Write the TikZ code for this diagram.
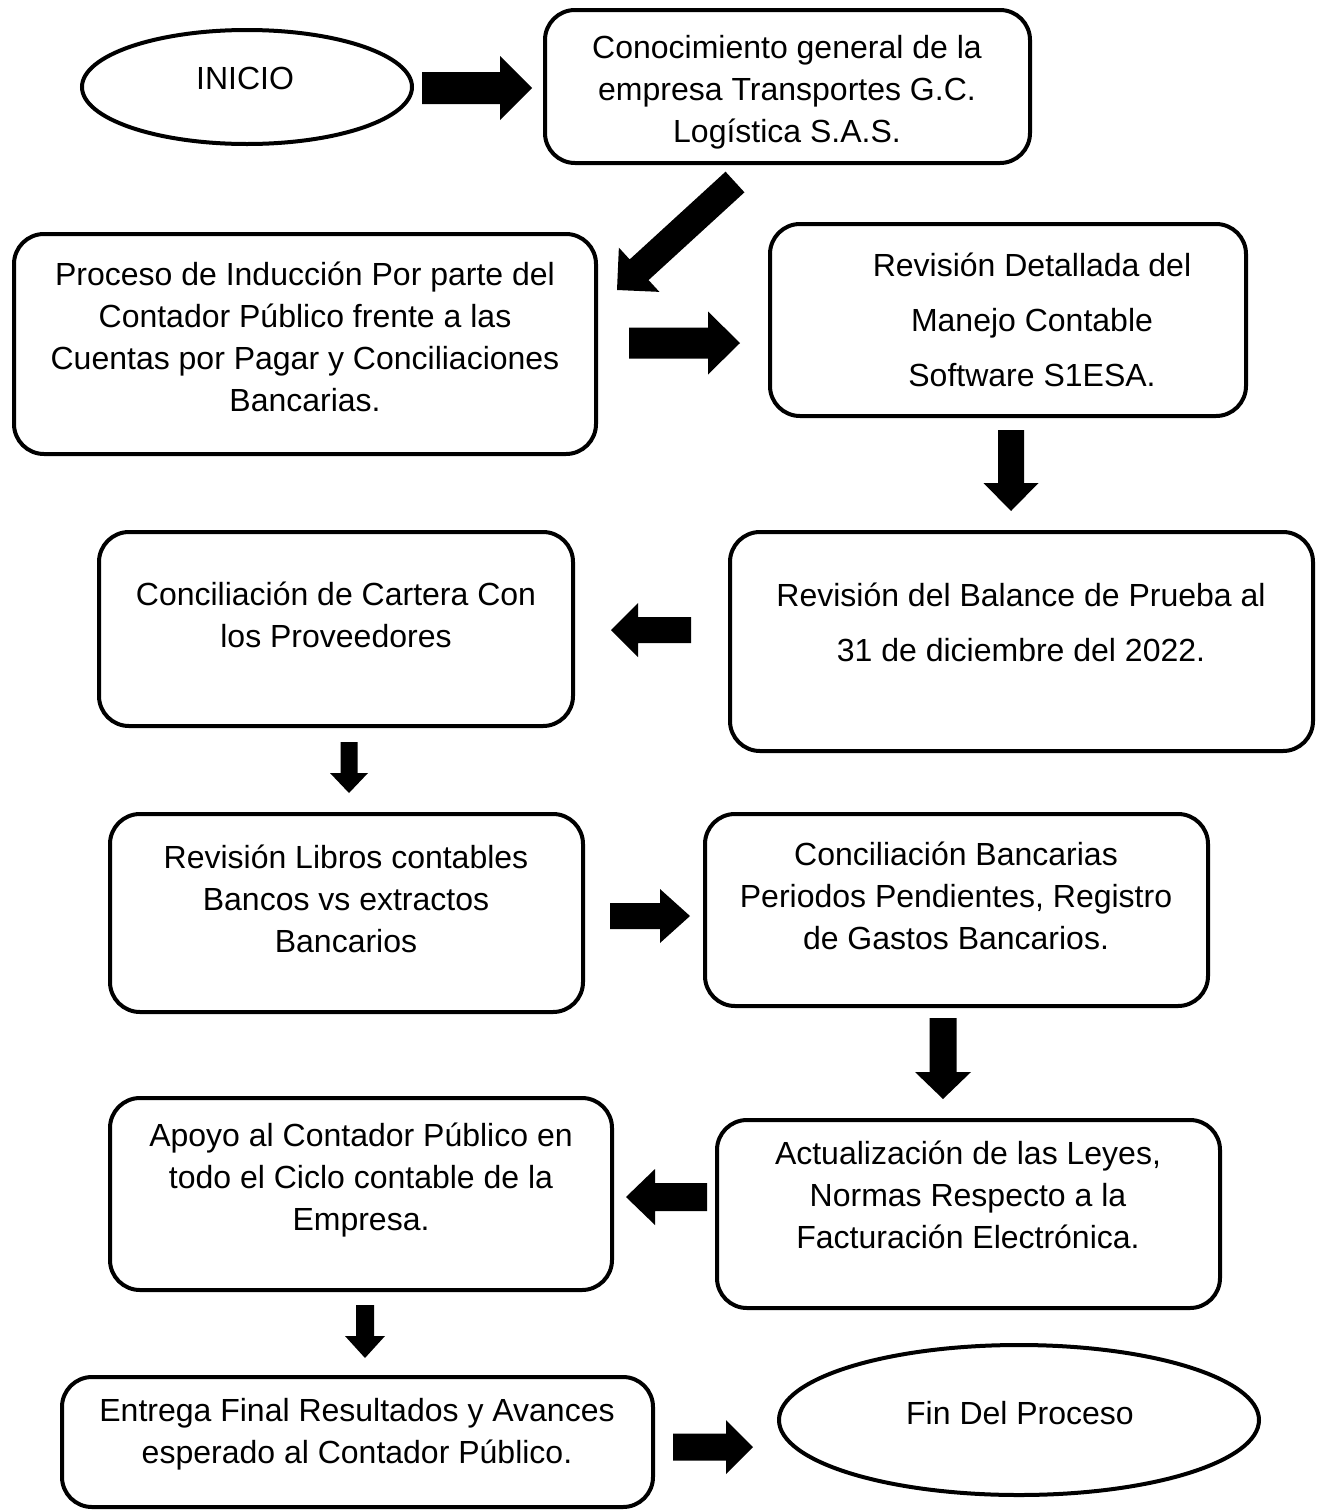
\documentclass[tikz,border=0pt]{standalone}
\usepackage{fontspec}
\setmainfont{Liberation Sans}
\usetikzlibrary{calc,fit,shapes.geometric}
\newcommand\blockarrow[5]{%
  \coordinate (hb) at ($(#2)!#5!(#1)$);
  \fill ($(#1)!#3!90:(#2)$) -- ($(hb)!#3!90:(#2)$) -- ($(hb)!#4!90:(#2)$) -- (#2)
    -- ($(hb)!#4!-90:(#2)$) -- ($(hb)!#3!-90:(#2)$) -- ($(#1)!#3!-90:(#2)$) -- cycle;}
\begin{document}
\begin{tikzpicture}[x=0.5pt,y=-0.5pt,
  box/.style={draw, line width=2pt, rounded corners=15pt, inner sep=0pt},
  oval/.style={draw, ellipse, line width=2pt, inner sep=0pt},
  txt/.style={align=center, font=\fontsize{16pt}{21pt}\selectfont, inner sep=0pt},
  wide/.style={font=\fontsize{16pt}{27.5pt}\selectfont}]
\useasboundingbox (0,0) rectangle (1325,1510);
% ovals
\node[oval, minimum width=165pt, minimum height=57pt] (e1) at (247,87) {};
\node[txt] (te1) at (245,78) {INICIO};
\node[oval, minimum width=240pt, minimum height=75pt] (e2) at (1019,1420) {};
\node[txt] (te2) at (1020,1413) {Fin Del Proceso};
% boxes
\node[box, fit={(545,10) (1030,163)}] (b1) {};
\node[txt] (t1) at (787,92) {Conocimiento general de la\\empresa Transportes G.C.\\Logística S.A.S.};
\node[box, fit={(14,234) (596,454)}] (b2) {};
\node[txt] (t2) at (305,337) {Proceso de Inducción Por parte del\\Contador Público frente a las\\Cuentas por Pagar y Conciliaciones\\Bancarias.};
\node[box, fit={(770,224) (1246,416)}] (b3) {};
\node[txt, wide] (t3) at (1032,320) {Revisión Detallada del\\Manejo Contable\\Software S1ESA.};
\node[box, fit={(730,532) (1313,751)}] (b4) {};
\node[txt, wide] (t4) at (1021,622) {Revisión del Balance de Prueba al\\31 de diciembre del 2022.};
\node[box, fit={(99,532) (573,726)}] (b5) {};
\node[txt] (t5) at (336,615) {Conciliación de Cartera Con\\los Proveedores};
\node[box, fit={(110,814) (583,1012)}] (b6) {};
\node[txt] (t6) at (346,899) {Revisión Libros contables\\Bancos vs extractos\\Bancarios};
\node[box, fit={(705,814) (1208,1006)}] (b7) {};
\node[txt] (t7) at (956,896) {Conciliación Bancarias\\Periodos Pendientes, Registro\\de Gastos Bancarios.};
\node[box, fit={(717,1120) (1220,1308)}] (b8) {};
\node[txt] (t8) at (968,1195) {Actualización de las Leyes,\\Normas Respecto a la\\Facturación Electrónica.};
\node[box, fit={(110,1098) (612,1290)}] (b9) {};
\node[txt] (t9) at (361,1180) {Apoyo al Contador Público en\\todo el Ciclo contable de la\\Empresa.};
\node[box, fit={(62,1377) (653,1507)}] (b10) {};
\node[txt] (t10) at (357,1434) {Entrega Final Resultados y Avances\\esperado al Contador Público.};
% arrow end points
\coordinate (a1s) at (422,88);   \coordinate (a1e) at (532,88);
\coordinate (a2s) at (735,182);  \coordinate (a2e) at (617,290);
\coordinate (a3s) at (629,343);  \coordinate (a3e) at (740,343);
\coordinate (a4s) at (1011,430); \coordinate (a4e) at (1011,511);
\coordinate (a5s) at (691,630);  \coordinate (a5e) at (611,630);
\coordinate (a6s) at (349,742);  \coordinate (a6e) at (349,793);
\coordinate (a7s) at (610,916);  \coordinate (a7e) at (690,916);
\coordinate (a8s) at (943,1018); \coordinate (a8e) at (943,1099);
\coordinate (a9s) at (707,1197); \coordinate (a9e) at (626,1197);
\coordinate (a10s) at (365,1305); \coordinate (a10e) at (365,1358);
\coordinate (a11s) at (673,1447); \coordinate (a11e) at (753,1447);
\blockarrow{a1s}{a1e}{8pt}{16pt}{16pt}
\blockarrow{a2s}{a2e}{7pt}{15pt}{15pt}
\blockarrow{a3s}{a3e}{7.75pt}{15.75pt}{16pt}
\blockarrow{a4s}{a4e}{6.5pt}{13.75pt}{14pt}
\blockarrow{a5s}{a5e}{6.5pt}{13.5pt}{13.5pt}
\blockarrow{a6s}{a6e}{4.25pt}{9.5pt}{10pt}
\blockarrow{a7s}{a7e}{6.5pt}{13.5pt}{15pt}
\blockarrow{a8s}{a8e}{6.75pt}{14pt}{13.5pt}
\blockarrow{a9s}{a9e}{7pt}{14pt}{14.5pt}
\blockarrow{a10s}{a10e}{4.5pt}{10pt}{11pt}
\blockarrow{a11s}{a11e}{6.75pt}{13.5pt}{13.5pt}
\end{tikzpicture}
\end{document}
